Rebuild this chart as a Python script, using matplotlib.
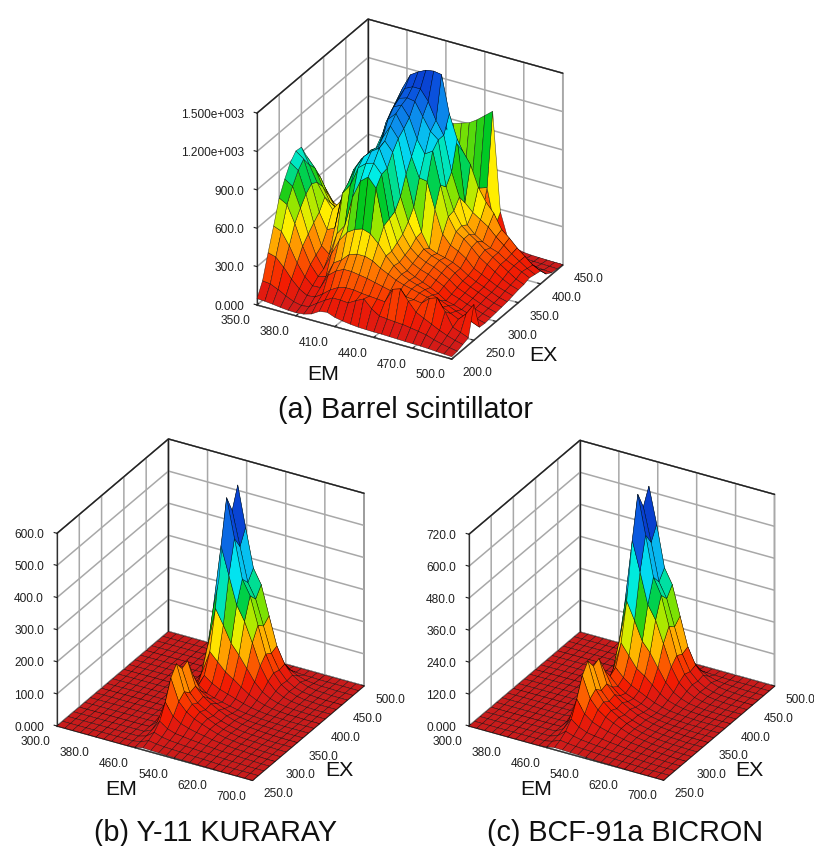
import numpy as np
import matplotlib
matplotlib.use('Agg')
import matplotlib.pyplot as plt
from matplotlib.colors import LinearSegmentedColormap, Normalize
from mpl_toolkits.mplot3d import proj3d

plt.rcParams['font.family'] = ['Liberation Sans', 'DejaVu Sans']
plt.rcParams['grid.color'] = '#a8a8a8'
plt.rcParams['grid.linewidth'] = 1.1

W, H = 814, 846

# (a) Barrel scintillator: EM 350-500 step 6, EX 200-450 step 12.5
em_a = [350 + 6 * i for i in range(26)]
ex_a = [200 + 12.5 * i for i in range(21)]
z_a = [
    [50, 46, 40, 32, 26, 24, 30, 48, 85, 95, 72, 60, 52, 46, 44, 42, 42, 40, 38, 36, 35, 33, 30, 26, 22, 18],
    [153, 146, 118, 84, 57, 43, 52, 95, 135, 170, 170, 165, 200, 230, 170, 130, 125, 120, 115, 105, 95, 84, 63, 47, 35, 24],
    [336, 319, 256, 180, 120, 85, 90, 130, 180, 215, 230, 230, 220, 215, 210, 205, 320, 340, 260, 190, 160, 130, 100, 75, 55, 40],
    [508, 483, 387, 270, 179, 124, 127, 240, 290, 320, 320, 310, 300, 285, 270, 255, 245, 240, 235, 225, 280, 300, 210, 105, 80, 55],
    [690, 656, 525, 364, 238, 160, 175, 300, 340, 400, 420, 420, 400, 360, 330, 300, 280, 265, 250, 235, 215, 190, 160, 130, 190, 280],
    [801, 761, 608, 422, 275, 183, 320, 440, 520, 560, 580, 560, 500, 420, 360, 310, 280, 260, 240, 215, 190, 165, 140, 115, 90, 65],
    [893, 849, 680, 473, 310, 260, 440, 520, 760, 900, 950, 880, 600, 420, 350, 300, 270, 245, 220, 190, 150, 135, 115, 95, 75, 60],
    [947, 901, 724, 520, 400, 430, 720, 800, 950, 1000, 1020, 950, 620, 450, 370, 320, 290, 270, 240, 210, 165, 145, 120, 100, 80, 65],
    [940, 820, 700, 600, 520, 600, 760, 900, 1000, 1060, 1100, 960, 640, 480, 390, 340, 310, 290, 260, 225, 180, 155, 130, 105, 85, 70],
    [830, 760, 630, 520, 480, 620, 830, 930, 995, 1030, 1120, 1050, 720, 540, 430, 360, 325, 305, 275, 240, 195, 165, 140, 115, 90, 75],
    [700, 650, 530, 440, 470, 680, 800, 900, 970, 1090, 1200, 1120, 860, 620, 440, 330, 305, 290, 270, 240, 200, 170, 145, 120, 95, 80],
    [565, 520, 430, 400, 510, 680, 800, 925, 980, 1200, 1260, 1160, 960, 810, 800, 600, 420, 350, 320, 280, 220, 190, 160, 130, 110, 90],
    [435, 400, 340, 380, 540, 700, 870, 900, 1120, 1260, 1290, 1210, 1060, 960, 1000, 750, 520, 420, 380, 330, 270, 230, 190, 150, 120, 100],
    [325, 300, 290, 370, 560, 720, 850, 1000, 1180, 1290, 1310, 1300, 1200, 1100, 1050, 700, 530, 430, 380, 340, 290, 250, 210, 170, 130, 105],
    [225, 210, 240, 360, 570, 770, 820, 1060, 1220, 1330, 1360, 1360, 1280, 1150, 1050, 780, 600, 400, 340, 300, 270, 250, 210, 180, 150, 120],
    [145, 140, 200, 340, 570, 760, 980, 1140, 1280, 1400, 1440, 1470, 1480, 1470, 1180, 1000, 520, 460, 420, 380, 320, 270, 220, 180, 140, 110],
    [85, 90, 150, 260, 430, 590, 760, 900, 1020, 1090, 1120, 1150, 1100, 1000, 930, 870, 780, 620, 520, 450, 340, 290, 230, 180, 130, 100],
    [45, 55, 90, 160, 270, 370, 480, 590, 670, 720, 740, 760, 730, 690, 640, 590, 500, 400, 330, 280, 210, 160, 120, 90, 60, 40],
    [25, 30, 50, 90, 150, 210, 280, 350, 410, 440, 460, 470, 450, 430, 400, 370, 300, 230, 170, 120, 80, 50, 35, 25, 18, 14],
    [15, 20, 30, 50, 80, 120, 170, 230, 290, 340, 390, 420, 430, 440, 450, 470, 490, 200, 70, 40, 25, 18, 14, 12, 10, 8],
    [10, 15, 25, 45, 80, 140, 240, 380, 540, 700, 850, 870, 890, 910, 950, 1000, 1050, 280, 80, 30, 15, 10, 8, 6, 5, 4],
]

# (b), (c): EM 300-700 step 16, EX 250-500 step 12.5, flat zero outside the peak columns
em_bc = [300 + 16 * i for i in range(26)]
ex_bc = [250 + 12.5 * i for i in range(21)]
peak_first_col = 9  # EM 444 ... 668
peak_b = [
    [0, 2, 6, 5, 4, 3, 3, 2, 2, 1, 1, 1, 0, 0, 0],
    [0, 4, 14, 10, 8, 7, 6, 5, 4, 3, 2, 1, 1, 0, 0],
    [0, 7, 25, 17, 13, 11, 9, 8, 6, 5, 4, 3, 2, 1, 0],
    [0, 11, 45, 28, 20, 17, 14, 12, 9, 7, 5, 4, 3, 2, 1],
    [1, 22, 90, 52, 36, 28, 22, 18, 13, 10, 7, 5, 4, 2, 1],
    [1, 36, 150, 84, 58, 43, 33, 24, 16, 11, 8, 5, 4, 2, 1],
    [2, 45, 180, 100, 68, 50, 36, 25, 16, 11, 7, 5, 4, 2, 1],
    [2, 38, 150, 82, 57, 42, 30, 21, 14, 9, 6, 4, 3, 1, 0],
    [2, 40, 160, 88, 62, 46, 33, 22, 14, 9, 6, 4, 2, 1, 0],
    [1, 26, 100, 58, 42, 32, 23, 15, 10, 6, 4, 3, 2, 1, 0],
    [1, 18, 55, 36, 28, 22, 16, 11, 7, 5, 3, 2, 1, 0, 0],
    [2, 26, 70, 52, 40, 32, 24, 16, 10, 6, 3, 2, 1, 0, 0],
    [6, 60, 130, 105, 80, 64, 46, 30, 18, 10, 5, 3, 1, 1, 0],
    [14, 125, 250, 205, 155, 125, 90, 54, 30, 16, 8, 4, 2, 1, 0],
    [28, 230, 430, 345, 260, 215, 155, 90, 48, 24, 12, 6, 3, 1, 0],
    [36, 300, 565, 445, 325, 280, 195, 112, 60, 30, 15, 7, 3, 2, 0],
    [32, 280, 510, 405, 300, 255, 178, 100, 54, 27, 13, 6, 3, 1, 0],
    [38, 310, 575, 450, 330, 285, 195, 108, 58, 30, 15, 7, 3, 2, 0],
    [16, 135, 250, 195, 145, 122, 84, 46, 25, 13, 6, 3, 1, 1, 0],
    [2, 14, 30, 22, 16, 14, 9, 5, 3, 1, 1, 0, 0, 0, 0],
    [0, 0, 0, 0, 0, 0, 0, 0, 0, 0, 0, 0, 0, 0, 0],
]
peak_c = [
    [0, 3, 8, 7, 6, 5, 4, 3, 2, 2, 1, 1, 0, 0, 0],
    [0, 6, 18, 14, 11, 9, 8, 6, 5, 4, 3, 2, 1, 0, 0],
    [0, 10, 34, 24, 18, 15, 12, 10, 8, 6, 5, 4, 2, 1, 0],
    [1, 18, 62, 40, 28, 23, 19, 15, 12, 9, 6, 5, 3, 2, 1],
    [1, 32, 120, 72, 50, 38, 30, 24, 17, 12, 9, 6, 4, 3, 1],
    [2, 52, 190, 112, 78, 58, 44, 32, 21, 14, 10, 6, 4, 2, 1],
    [3, 62, 227, 130, 90, 66, 48, 33, 21, 14, 9, 6, 4, 2, 1],
    [3, 52, 190, 108, 75, 55, 40, 28, 18, 12, 8, 5, 3, 2, 0],
    [2, 55, 201, 115, 82, 60, 43, 29, 19, 12, 8, 5, 3, 1, 0],
    [2, 40, 140, 85, 60, 46, 33, 22, 14, 9, 5, 3, 2, 1, 0],
    [1, 30, 100, 70, 52, 40, 29, 18, 11, 7, 4, 3, 1, 1, 0],
    [3, 42, 115, 85, 64, 50, 36, 23, 14, 8, 5, 3, 1, 0, 0],
    [8, 85, 190, 150, 110, 90, 64, 39, 22, 13, 7, 4, 2, 1, 0],
    [18, 165, 330, 265, 195, 160, 112, 65, 35, 19, 9, 5, 2, 1, 0],
    [34, 285, 540, 430, 315, 265, 185, 105, 54, 29, 14, 7, 3, 2, 0],
    [44, 370, 695, 550, 400, 340, 232, 130, 68, 36, 17, 8, 4, 2, 0],
    [40, 340, 630, 505, 365, 310, 212, 118, 60, 32, 15, 7, 3, 2, 0],
    [44, 375, 690, 555, 400, 345, 235, 128, 67, 37, 17, 8, 4, 2, 0],
    [18, 155, 300, 238, 170, 145, 98, 54, 28, 15, 7, 4, 2, 1, 0],
    [2, 18, 36, 26, 19, 16, 11, 6, 3, 2, 1, 0, 0, 0, 0],
    [0, 0, 0, 0, 0, 0, 0, 0, 0, 0, 0, 0, 0, 0, 0],
]

em_ticks_a = [350, 380, 410, 440, 470, 500]
ex_ticks_a = [200, 250, 300, 350, 400, 450]
z_ticks_a = [0, 300, 600, 900, 1200, 1500]
z_labels_a = ['0.000', '300.0', '600.0', '900.0', '1.200e+003', '1.500e+003']

em_ticks_bc = [300, 380, 460, 540, 620, 700]
ex_ticks_bc = [250, 300, 350, 400, 450, 500]
z_ticks_b = [0, 100, 200, 300, 400, 500, 600]
z_labels_b = ['0.000', '100.0', '200.0', '300.0', '400.0', '500.0', '600.0']
z_ticks_c = [0, 120, 240, 360, 480, 600, 720]
z_labels_c = ['0.000', '120.0', '240.0', '360.0', '480.0', '600.0', '720.0']

cmap = LinearSegmentedColormap.from_list('spectrum', [
    (0.00, '#c81c1c'), (0.04, '#dc1a14'), (0.10, '#f51c00'), (0.20, '#ff7a00'),
    (0.30, '#fff000'), (0.38, '#90e600'), (0.44, '#00c81e'), (0.50, '#00e0a0'),
    (0.57, '#00eef0'), (0.68, '#0c9cf0'), (0.80, '#0a4cdc'), (1.00, '#000c9c'),
])


def fit_axes(ax, p_left, p_front, xl, yl):
    # move and scale the 3D axes so the front floor edge lands on the wanted pixels
    for _ in range(3):
        ax.apply_aspect()
        M = ax.get_proj()
        x0, y0, _z = proj3d.proj_transform(xl[0], yl[0], 0, M)
        x1, y1, _z = proj3d.proj_transform(xl[1], yl[0], 0, M)
        a = ax.transData.transform((x0, y0))
        b = ax.transData.transform((x1, y1))
        want_a = np.array([p_left[0], H - p_left[1]], float)
        want_b = np.array([p_front[0], H - p_front[1]], float)
        s = np.linalg.norm(want_b - want_a) / np.linalg.norm(b - a)
        box = ax.get_position(original=True)
        L, B, w, h = box.x0 * W, box.y0 * H, box.width * W, box.height * H
        fa = (a - [L, B]) / [w, h]
        w, h = w * s, h * s
        L, B = want_a - fa * [w, h]
        ax.set_position([L / W, B / H, w / W, h / H])


def panel(em, ex, z, em_ticks, ex_ticks, z_ticks, z_labels, zmax, vmax, p_left, p_front):
    ax = fig.add_axes([0.1, 0.1, 0.6, 0.6 * W / H], projection='3d', proj_type='ortho')
    ax.set_facecolor('none')
    ax.view_init(elev=29, azim=-60.2)
    ax.set_box_aspect((226, 225, 221))
    X, Y = np.meshgrid(em, ex)
    ax.plot_surface(X, Y, np.array(z, float), rstride=1, cstride=1, cmap=cmap,
                    norm=Normalize(0, vmax), shade=False, edgecolor=(0, 0, 0, 0.75), linewidth=0.35)
    # dark frame along the top of the walls and the back corner
    x0, x1, y0, y1 = em[0], em[-1], ex[0], ex[-1]
    ax.plot([x0, x0, x1], [y0, y1, y1], [zmax, zmax, zmax], color='#202020', lw=1.0)
    ax.plot([x0, x0], [y1, y1], [0, zmax], color='#202020', lw=1.0)
    ax.set_xlim(x0, x1, view_margin=0)
    ax.set_ylim(y0, y1, view_margin=0)
    ax.set_zlim(0, zmax, view_margin=0)
    ax.set_xticks(em_ticks)
    ax.set_xticklabels(['%.1f' % v for v in em_ticks])
    ax.set_yticks(ex_ticks)
    ax.set_yticklabels(['%.1f' % v for v in ex_ticks])
    ax.set_zticks(z_ticks)
    ax.set_zticklabels(z_labels)
    ax.zaxis._axinfo['juggled'] = (1, 2, 0)
    for axis in (ax.xaxis, ax.yaxis, ax.zaxis):
        axis.set_pane_color((1, 1, 1, 1))
        axis.pane.set_edgecolor('#303030')
        axis.pane.set_linewidth(0.9)
        axis.line.set_color('#303030')
        axis.line.set_linewidth(0.9)
        axis._axinfo['tick']['inward_factor'] = 0
        axis._axinfo['tick']['outward_factor'] = 0.18
        axis._axinfo['tick']['color'] = '#303030'
    ax.tick_params(axis='x', labelsize=8.6, colors='#202020', pad=0)
    ax.tick_params(axis='y', labelsize=8.6, colors='#202020', pad=0)
    ax.tick_params(axis='z', labelsize=8.6, colors='#202020', pad=-2)
    for t in ax.get_xticklabels():
        t.set_ha('right')
        t.set_va('center')
    for t in ax.get_yticklabels():
        t.set_ha('left')
        t.set_va('center')
    for t in ax.get_zticklabels():
        t.set_ha('right')
        t.set_va('center')
    fit_axes(ax, p_left, p_front, (em[0], em[-1]), (ex[0], ex[-1]))
    return ax


def pixel_text(x, y, s, size):
    fig.text(x / W, 1 - y / H, s, fontsize=size, ha='center', va='center', color='#101010')


fig = plt.figure(figsize=(W / 100, H / 100), dpi=100, facecolor='white')

z_b = np.zeros((len(ex_bc), len(em_bc)))
z_b[:, peak_first_col:peak_first_col + 15] = peak_b
z_c = np.zeros((len(ex_bc), len(em_bc)))
z_c[:, peak_first_col:peak_first_col + 15] = peak_c

panel(em_a, ex_a, z_a, em_ticks_a, ex_ticks_a, z_ticks_a, z_labels_a, 1500, 1700, (257, 305), (452, 358))
panel(em_bc, ex_bc, z_b, em_ticks_bc, ex_ticks_bc, z_ticks_b, z_labels_b, 600, 590, (57, 726), (252, 782))
panel(em_bc, ex_bc, z_c, em_ticks_bc, ex_ticks_bc, z_ticks_c, z_labels_c, 720, 710, (469, 726), (663, 782))

pixel_text(323, 375, 'EM', 15.3)
pixel_text(543, 355, 'EX', 15.3)
pixel_text(121, 789, 'EM', 15.3)
pixel_text(339, 770, 'EX', 15.3)
pixel_text(536, 789, 'EM', 15.3)
pixel_text(749, 770, 'EX', 15.3)
pixel_text(405, 410, '(a) Barrel scintillator', 20.7)
pixel_text(216, 833, '(b) Y-11 KURARAY', 20.7)
pixel_text(625, 833, '(c) BCF-91a BICRON', 20.7)

fig.savefig('out.png', dpi=100)
